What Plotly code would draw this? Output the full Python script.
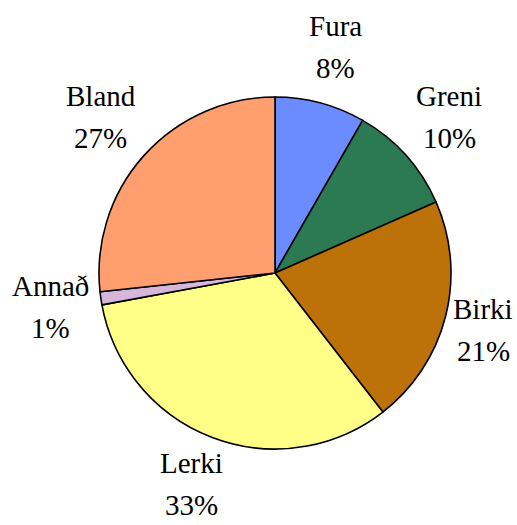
import math
import plotly.graph_objects as go

labels = ["Fura", "Greni", "Birki", "Lerki", "Annað", "Bland"]
values = [8.3, 10.1, 21.1, 32.6, 1.2, 26.7]
pct_text = ["8%", "10%", "21%", "33%", "1%", "27%"]
colors = ["#6A8CFF", "#2C7A52", "#BC7208", "#FFFF88", "#D6B6DA", "#FF9E6E"]

W, H = 517, 525
cx, cy, r = 275, 252, 176  # pie centre (px from left / bottom), radius px
FS = 29

# approximate Times glyph widths (em) for label fitting
CW = {"A": .722, "B": .667, "F": .556, "G": .722, "L": .611, "a": .444, "d": .5, "ð": .5,
      "e": .444, "i": .278, "k": .5, "l": .278, "n": .5, "r": .333, "u": .5, "%": .833}


def text_w(s):
    return sum(CW.get(ch, .5) for ch in s) * FS


fig = go.Figure(go.Pie(
    labels=labels, values=values, sort=False, direction="clockwise", rotation=0,
    marker=dict(colors=colors, line=dict(color="black", width=1.6)),
    textinfo="none", hoverinfo="label+percent", showlegend=False,
    domain=dict(x=[(cx - r) / W, (cx + r) / W], y=[(cy - r) / H, (cy + r) / H]),
))

total = sum(values)
cum = 0.0
label_r = 234
font = dict(family="Liberation Serif, Times New Roman, serif", size=FS, color="black")
for lab, v, pt in zip(labels, values, pct_text):
    mid = (cum + v / 2) / total * 2 * math.pi
    cum += v
    px = cx + label_r * math.sin(mid)
    py = cy + label_r * math.cos(mid)
    hw = max(text_w(lab), text_w(pt)) / 2
    px = min(max(px, 12 + hw), W - 4 - hw)
    py = min(max(py, 41), H - 41)
    fig.add_annotation(x=px / W, y=(py + 21) / H, xref="paper", yref="paper",
                       text=lab, showarrow=False, font=font, xanchor="center", yanchor="middle")
    fig.add_annotation(x=px / W, y=(py - 21) / H, xref="paper", yref="paper",
                       text=pt, showarrow=False, font=font, xanchor="center", yanchor="middle")

fig.update_layout(width=W, height=H, margin=dict(l=0, r=0, t=0, b=0),
                  paper_bgcolor="white", plot_bgcolor="white",
                  font=dict(family="Liberation Serif, Times New Roman, serif"))
fig.write_html("out.html", config={"displayModeBar": False},
               post_script="document.body.style.margin='0';document.body.style.overflow='hidden';")
